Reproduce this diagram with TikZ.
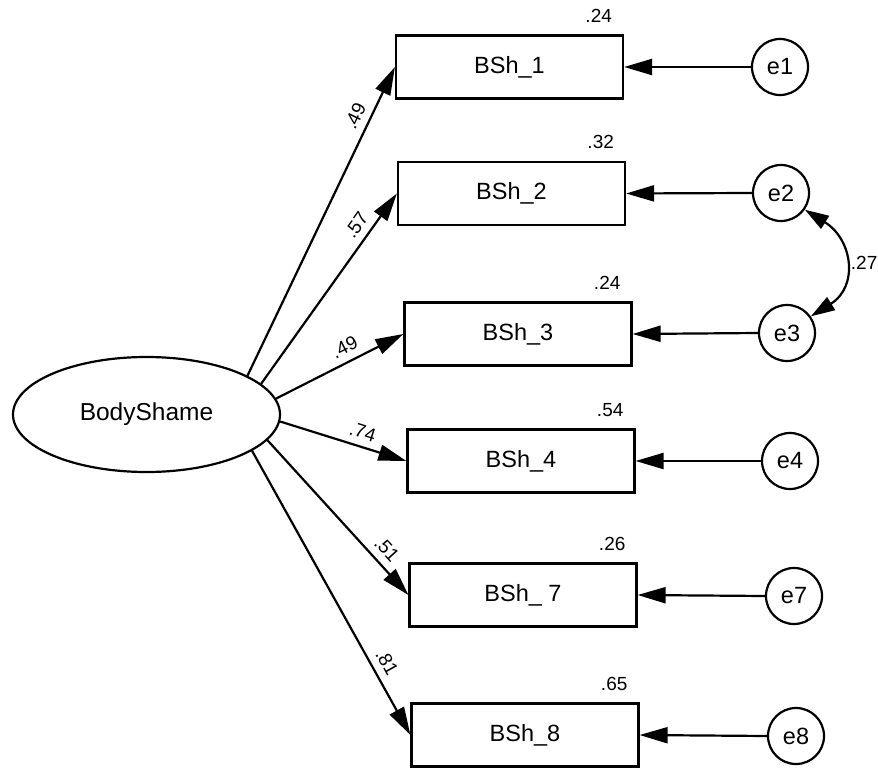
\documentclass[tikz,border=0pt]{standalone}
\usepackage{fontspec}
\setmainfont{Liberation Sans}
\usetikzlibrary{arrows.meta,shapes.geometric}
\begin{document}
\begin{tikzpicture}[x=1pt,y=-1pt,
  obs/.style={draw, line width=2.2pt, minimum width=227pt, minimum height=63pt, inner sep=0pt, font=\fontsize{23.5}{27}\selectfont},
  err/.style={draw, circle, line width=2.2pt, minimum size=56pt, inner sep=0pt, font=\fontsize{23.5}{27}\selectfont},
  lat/.style={draw, ellipse, line width=2.2pt, minimum width=267pt, minimum height=115pt, inner sep=0pt, font=\fontsize{24.5}{28}\selectfont},
  pth/.style={line width=2.2pt, -{Triangle[length=28pt,width=16pt]}},
  cov/.style={line width=2.2pt, {Triangle[length=24pt,width=15pt]}-{Triangle[length=24pt,width=15pt]}},
  coef/.style={font=\fontsize{19}{22}\selectfont, inner sep=2pt},
  ld/.style={coef, sloped, above=5pt},
]
\useasboundingbox (0,0) rectangle (878,770);

\node[lat] (bs) at (146.5,414.5) {BodyShame};

\node[obs] (b1) at (509.5,67) {BSh\_1};
\node[obs] (b2) at (511.5,193.5) {BSh\_2};
\node[obs] (b3) at (518,334) {BSh\_3};
\node[obs] (b4) at (521,461) {BSh\_4};
\node[obs] (b7) at (523,595) {BSh\_ 7};
\node[obs] (b8) at (525,735) {BSh\_8};

\node[err] (e1) at (780,67) {e1};
\node[err] (e2) at (781,193) {e2};
\node[err] (e3) at (787,333) {e3};
\node[err] (e4) at (790,461) {e4};
\node[err] (e7) at (794,596) {e7};
\node[err] (e8) at (796,736) {e8};

\draw[pth] (bs.21.5) -- node[ld, pos=0.82] {.49} (b1.west);
\draw[pth] (bs.15.3) -- node[ld, pos=0.79] {.57} (b2.west);
\draw[pth] (bs.7.2) -- node[ld, pos=0.59] {.49} (b3.west);
\draw[pth] (bs.-3.2) -- node[ld, pos=0.62] {.74} (b4.west);
\draw[pth] (bs.-12.8) -- node[ld, pos=0.77] {.51} (b7.west);
\draw[pth] (bs.-19.4) -- node[ld, pos=0.77] {.81} (b8.west);

\draw[pth] (e1.west) -- (b1.east);
\draw[pth] (e2.west) -- (b2.east);
\draw[pth] (e3.west) -- (b3.east);
\draw[pth] (e4.west) -- (b4.east);
\draw[pth] (e7.west) -- (b7.east);
\draw[pth] (e8.west) -- (b8.east);

\draw[cov] (e2.-35) .. controls +(48,30) and +(48,-30) .. node[coef, right=4pt, pos=0.5] {.27} (e3.35);

\path (b1.north east) ++(-10,-12) node[coef, anchor=base east] {.24};
\path (b2.north east) ++(-10,-12) node[coef, anchor=base east] {.32};
\path (b3.north east) ++(-10,-12) node[coef, anchor=base east] {.24};
\path (b4.north east) ++(-10,-12) node[coef, anchor=base east] {.54};
\path (b7.north east) ++(-10,-12) node[coef, anchor=base east] {.26};
\path (b8.north east) ++(-10,-12) node[coef, anchor=base east] {.65};
\end{tikzpicture}
\end{document}
